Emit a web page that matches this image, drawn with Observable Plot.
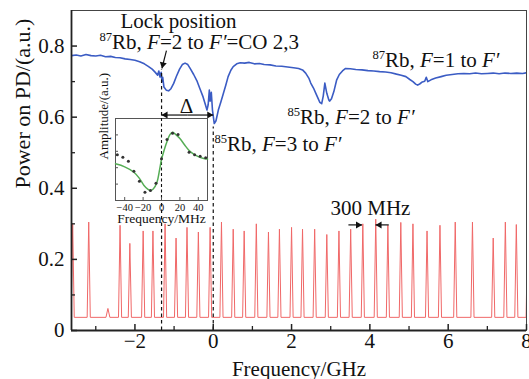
<!DOCTYPE html>
<html><head><meta charset="utf-8">
<script src="https://cdn.jsdelivr.net/npm/d3@7"></script>
<script src="https://cdn.jsdelivr.net/npm/@observablehq/plot@0.6"></script>
<style>
body{margin:0;background:#fff;}
#wrap{position:relative;width:529px;height:379px;overflow:hidden;}
#inset{position:absolute;left:90px;top:108px;}
svg{overflow:visible;}
</style></head><body><div id="wrap"><div id="main"></div><div id="inset"></div></div>
<script>
// ---------- data ----------
const xDomain = [-3.62, 8];
const yDomain = [0, 0.9];
const xMajor = [-2, 0, 2, 4, 6, 8];
const xMinor = [-3, -1, 1, 3, 5, 7];
const yMajor = [0, 0.2, 0.4, 0.6, 0.8];
const yMinor = [0.1, 0.3, 0.5, 0.7];

// absorption spectrum (blue)
const absFreq = [-3.62,-3.5,-3.38,-3.25,-3.12,-3.0,-2.88,-2.75,-2.62,-2.5,-2.38,-2.25,-2.12,-2.0,-1.88,-1.76,-1.66,-1.56,-1.48,-1.42,-1.39,-1.36,-1.33,-1.31,-1.29,-1.26,-1.2,-1.14,-1.08,-1.01,-0.94,-0.86,-0.79,-0.72,-0.65,-0.59,-0.5,-0.42,-0.34,-0.26,-0.2,-0.16,-0.13,-0.10,-0.08,-0.05,-0.02,0.026,0.07,0.13,0.2,0.26,0.32,0.38,0.45,0.51,0.6,0.69,0.8,0.92,1.05,1.18,1.3,1.45,1.6,1.75,1.9,2.05,2.18,2.28,2.36,2.44,2.49,2.56,2.62,2.68,2.72,2.77,2.81,2.85,2.9,2.95,2.97,3.02,3.08,3.15,3.22,3.3,3.38,3.5,3.64,3.8,3.95,4.1,4.25,4.4,4.54,4.68,4.8,4.92,5.02,5.1,5.17,5.22,5.28,5.34,5.4,5.44,5.48,5.56,5.68,5.82,5.95,6.1,6.25,6.4,6.55,6.7,6.85,7.0,7.15,7.3,7.45,7.6,7.75,7.9,8.0];
const absPower = [0.773,0.775,0.772,0.776,0.773,0.772,0.774,0.770,0.771,0.768,0.767,0.764,0.762,0.760,0.756,0.750,0.743,0.735,0.726,0.718,0.730,0.713,0.726,0.700,0.712,0.685,0.676,0.674,0.680,0.695,0.715,0.735,0.748,0.752,0.748,0.737,0.720,0.703,0.680,0.657,0.635,0.620,0.635,0.676,0.645,0.670,0.620,0.582,0.590,0.620,0.645,0.667,0.690,0.714,0.732,0.742,0.750,0.753,0.752,0.754,0.750,0.751,0.748,0.747,0.744,0.743,0.741,0.739,0.737,0.733,0.724,0.710,0.696,0.682,0.667,0.652,0.642,0.638,0.660,0.696,0.667,0.649,0.645,0.652,0.672,0.704,0.720,0.730,0.737,0.736,0.734,0.733,0.731,0.730,0.728,0.727,0.725,0.721,0.718,0.714,0.706,0.700,0.693,0.690,0.694,0.699,0.701,0.712,0.700,0.705,0.710,0.714,0.718,0.720,0.722,0.723,0.722,0.724,0.722,0.723,0.724,0.722,0.724,0.723,0.724,0.723,0.725];

// Fabry-Perot transmission peaks (red)
const fpPeakFreq = [-3.59,-3.18,-2.38,-2.13,-1.79,-1.54,-1.23,-0.95,-0.67,-0.38,-0.08,0.21,0.51,0.79,1.10,1.41,1.69,2.0,2.28,2.59,2.90,3.21,3.51,3.82,4.15,4.46,4.79,5.10,5.46,5.79,6.18,6.62,7.15,7.46,7.74,8.03];
const fpPeakHeight = [0.300,0.305,0.296,0.245,0.280,0.280,0.300,0.260,0.290,0.277,0.290,0.305,0.285,0.280,0.300,0.277,0.285,0.290,0.285,0.285,0.270,0.280,0.285,0.300,0.313,0.296,0.304,0.300,0.280,0.296,0.305,0.305,0.260,0.305,0.298,0.300];
const fpBumpFreq = [-2.69];
const fpBumpHeight = [0.062];
const fpFloor = 0.037;

// markers
const lockFreq = -1.32, lockTop = 0.733;
const dipFreq = 0, dipTop = 0.572;

// inset: error signal
const insetFreq = [-48,-42,-36,-30,-24,-18,-12,-6,0,6,12,18,30,36,42,48];
const insetAmp = [0.557,0.528,0.479,0.357,0.235,0.101,0.122,0.211,0.509,0.744,0.821,0.805,0.589,0.557,0.540,0.521];
const fitFreq = [-50,-40,-30,-24,-19,-15,-12,-9,-5,-2,0,3,6,9,12,15,20,25,30,35,40,45,50];
const fitAmp = [0.447,0.410,0.345,0.270,0.183,0.140,0.122,0.140,0.220,0.380,0.500,0.620,0.720,0.800,0.832,0.810,0.755,0.680,0.610,0.565,0.535,0.515,0.505];
const insetXTicks = [-40,-20,0,20,40];
const insetYTicks = [0.2,0.4,0.6,0.8];

// ---------- build ----------
const FONT = '"Liberation Serif","Times New Roman",serif';
const BLUE = "#3b5cc4", RED = "#f06868", GREEN = "#55ad55";
const fmtX = d => d < 0 ? "\u2212" + Math.abs(d) : String(d);
const fmtY = d => d === 0 ? "0" : d.toFixed(1);

const absPts = absFreq.map((f, i) => ({f, p: absPower[i]}));
const fpPts = [];
fpPeakFreq.forEach((f, i) => fpPts.push({f: f - 0.04, p: fpFloor}, {f, p: fpPeakHeight[i]}, {f: f + 0.04, p: fpFloor}));
fpBumpFreq.forEach((f, i) => fpPts.push({f: f - 0.05, p: fpFloor}, {f, p: fpBumpHeight[i]}, {f: f + 0.05, p: fpFloor}));
fpPts.sort((a, b) => a.f - b.f);

const W = 529, H = 379, ML = 71, MR = 3, MT = 10, MB = 49;
const FW = W - ML - MR, FH = H - MT - MB;

const startNotes = [
  {f: -2.906, p: 0.793, t: "^{87}Rb, _F_=2 to _F\u2032_=CO 2,3"},
  {f: 4.065, p: 0.7405, t: "^{87}Rb, _F_=1 to _F\u2032_"},
  {f: 1.895, p: 0.582, t: "^{85}Rb, _F_=2 to _F\u2032_"},
  {f: 0.03, p: 0.506, t: "^{85}Rb, _F_=3 to _F\u2032_"}
];
const midNotes = [
  {f: -0.889, p: 0.851, t: "Lock position"},
  {f: -0.684, p: 0.613, t: "\u0394"},
  {f: 4.015, p: 0.325, t: "300 MHz"}
];
const deltaY = 0.606;
const links = [
  {x1: lockFreq / 2, x2: lockFreq, y: deltaY},
  {x1: lockFreq / 2, x2: dipFreq, y: deltaY},
  {x1: 3.452, x2: 3.80, y: 0.297},
  {x1: 4.482, x2: 4.145, y: 0.297}
];
const headsRight = [{f: dipFreq, p: deltaY}, {f: 3.80, p: 0.297}];
const headsLeft = [{f: lockFreq, p: deltaY}, {f: 4.145, p: 0.297}];
const lockArrow = [{x1: -1.195, y1: 0.787, x2: -1.31, y2: 0.737}];

const main = Plot.plot({
  width: W, height: H,
  marginLeft: ML, marginRight: MR, marginTop: MT, marginBottom: MB,
  style: {fontFamily: FONT, fontSize: "21px", background: "transparent", color: "#111"},
  x: {domain: xDomain, label: null},
  y: {domain: yDomain, label: null},
  marks: [
    Plot.line(fpPts, {x: "f", y: "p", stroke: RED, strokeWidth: 1, clip: true}),
    Plot.line(absPts, {x: "f", y: "p", stroke: BLUE, strokeWidth: 1.6, clip: true}),
    Plot.ruleX([{f: lockFreq, top: lockTop}, {f: dipFreq, top: dipTop}], {x: "f", y1: 0, y2: "top", stroke: "#111", strokeWidth: 1.2, strokeDasharray: "3.5,3"}),
    Plot.link(links, {x1: "x1", x2: "x2", y1: "y", y2: "y", stroke: "#111", strokeWidth: 1.2}),
    Plot.dot(headsRight, {x: "f", y: "p", symbol: "triangle", r: 2.6, rotate: 90, dx: -4, fill: "#111", stroke: "none"}),
    Plot.dot(headsLeft, {x: "f", y: "p", symbol: "triangle", r: 2.6, rotate: -90, dx: 4, fill: "#111", stroke: "none"}),
    Plot.link(lockArrow, {x1: "x1", y1: "y1", x2: "x2", y2: "y2", stroke: "#111", strokeWidth: 1.2}),
    Plot.dot(lockArrow, {x: "x2", y: "y2", symbol: "triangle", r: 2.6, rotate: 193, dx: 0.9, dy: -3.9, fill: "#111", stroke: "none"}),
    Plot.text(startNotes, {x: "f", y: "p", text: "t", textAnchor: "start", lineAnchor: "bottom", fontSize: 21, fill: "#111"}),
    Plot.text(midNotes, {x: "f", y: "p", text: "t", textAnchor: "middle", lineAnchor: "bottom", fontSize: 21, fill: "#111"}),
    Plot.frame({stroke: "#444", strokeWidth: 1}),
    Plot.ruleX([xDomain[0]], {stroke: "#222", strokeWidth: 1.8}),
    Plot.ruleY([yDomain[0]], {stroke: "#222", strokeWidth: 1.8}),
    Plot.ruleX(xMajor, {x: d => d, insetTop: FH - 6, stroke: "#222", strokeWidth: 1.5}),
    Plot.ruleX(xMinor, {x: d => d, insetTop: FH - 4, stroke: "#222", strokeWidth: 1.3}),
    Plot.ruleY(yMajor, {y: d => d, insetRight: FW - 6, stroke: "#222", strokeWidth: 1.5}),
    Plot.ruleY(yMinor, {y: d => d, insetRight: FW - 4, stroke: "#222", strokeWidth: 1.3}),
    Plot.axisX({ticks: xMajor, tickSize: 0, tickPadding: 3, tickFormat: fmtX, fontSize: 21, label: null}),
    Plot.axisY({ticks: yMajor, tickSize: 0, tickPadding: 7, tickFormat: fmtY, fontSize: 21, label: null}),
    Plot.text(["Frequency/GHz"], {text: d => d, frameAnchor: "bottom", dy: 45, lineAnchor: "bottom", fontSize: 21, fill: "#111"}),
    Plot.text(["Power on PD/(a.u.)"], {text: d => d, frameAnchor: "left", dx: -42, dy: 18, rotate: -90, lineAnchor: "bottom", fontSize: 22, fill: "#111"})
  ]
});

function richify(svg, fs) {
  svg.querySelectorAll("text").forEach(t => {
    const s = t.textContent;
    if (!/[\^_]/.test(s)) return;
    while (t.firstChild) t.removeChild(t.firstChild);
    const re = /\^\{([^}]*)\}|_([^_]*)_|([^\^_]+)/g;
    let m, shift = 0;
    while ((m = re.exec(s))) {
      const ts = document.createElementNS("http://www.w3.org/2000/svg", "tspan");
      if (m[1] !== undefined) {
        ts.textContent = m[1];
        ts.setAttribute("font-size", (fs * 0.6) + "px");
        ts.setAttribute("dy", String(-fs * 0.38 - shift));
        shift = -fs * 0.38;
      } else {
        const italic = m[2] !== undefined;
        ts.textContent = italic ? m[2] : m[3];
        if (italic) ts.setAttribute("font-style", "italic");
        if (shift) { ts.setAttribute("dy", String(-shift)); shift = 0; }
      }
      t.appendChild(ts);
    }
  });
}
richify(main, 21);
document.getElementById("main").appendChild(main);

// ---------- inset ----------
const iW = 122, iH = 122, iML = 25, iMR = 5, iMT = 10, iMB = 30;
const iFW = iW - iML - iMR, iFH = iH - iMT - iMB;
const insetPts = insetFreq.map((f, i) => ({f, a: insetAmp[i]}));
const fitPts = fitFreq.map((f, i) => ({f, a: fitAmp[i]}));
const inset = Plot.plot({
  width: iW, height: iH,
  marginLeft: iML, marginRight: iMR, marginTop: iMT, marginBottom: iMB,
  style: {fontFamily: FONT, fontSize: "10.5px", background: "transparent", color: "#111"},
  x: {domain: [-50, 50], label: null},
  y: {domain: [0, 1], label: null, axis: null},
  marks: [
    Plot.frame({fill: "white", stroke: "#555", strokeWidth: 1}),
    Plot.ruleX([0], {stroke: "#111", strokeWidth: 1.1, strokeDasharray: "3,2.5"}),
    Plot.line(fitPts, {x: "f", y: "a", stroke: GREEN, strokeWidth: 1.5, curve: "catmull-rom"}),
    Plot.dot(insetPts, {x: "f", y: "a", r: 1.5, fill: "#333", stroke: "none"}),
    Plot.ruleX(insetXTicks, {x: d => d, insetTop: iFH - 3, stroke: "#555"}),
    Plot.ruleY(insetYTicks, {y: d => d, insetRight: iFW - 3, stroke: "#555"}),
    Plot.axisX({ticks: insetXTicks, tickSize: 0, tickPadding: 3, tickFormat: fmtX, fontSize: 10.5, label: null}),
    Plot.text(["Frequency/MHz"], {text: d => d, frameAnchor: "bottom", dy: 22, lineAnchor: "bottom", fontSize: 13.5, fill: "#111"}),
    Plot.text(["Amplitude/(a.u.)"], {text: d => d, frameAnchor: "left", dx: -7.5, rotate: -90, lineAnchor: "bottom", fontSize: 13, fill: "#111"})
  ]
});
document.getElementById("inset").appendChild(inset);
</script></body></html>
